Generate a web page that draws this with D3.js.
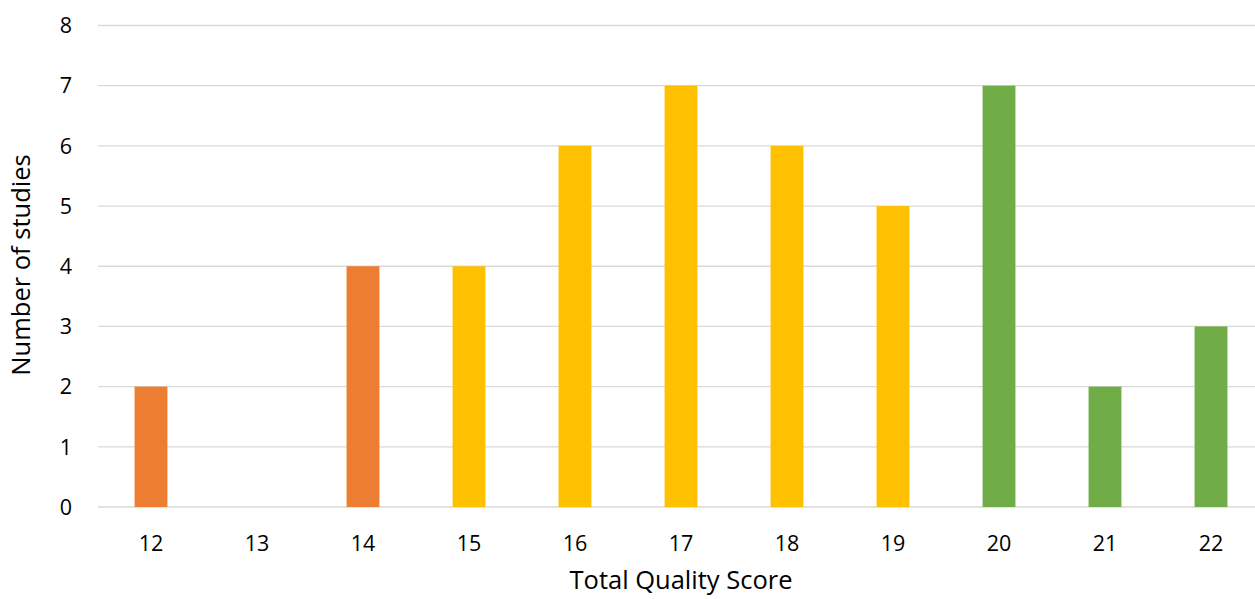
<!DOCTYPE html>
<html><head><meta charset="utf-8">
<script src="https://cdn.jsdelivr.net/npm/d3@7"></script>
<style>body{margin:0;background:#fff}svg{display:block}text{font-family:"Open Sans",sans-serif;fill:#000}</style>
</head><body>
<svg id="c" width="1255" height="599"></svg>
<script>
const categories = ["12","13","14","15","16","17","18","19","20","21","22"];
const values = [2,0,4,4,6,7,6,5,7,2,3];
const groups = ["low","low","low","mid","mid","mid","mid","mid","high","high","high"];
const yTicks = [0,1,2,3,4,5,6,7,8];
const colorMap = {low:"#ED7D31", mid:"#FFC000", high:"#70AD47"};

const svg = d3.select("#c");
const plotL = 98, plotR = 1264, plotT = 25.5, plotB = 507;
const x = d3.scaleBand().domain(categories).range([plotL, plotR]).paddingInner(0.69).paddingOuter(0.345);
const y = d3.scaleLinear().domain([0, 8]).range([plotB, plotT]);

svg.append("g").selectAll("line").data(yTicks).join("line")
  .attr("x1", plotL).attr("x2", plotR)
  .attr("y1", d => y(d)).attr("y2", d => y(d))
  .attr("stroke", "#D9D9D9").attr("stroke-width", 1.3);

svg.append("g").selectAll("rect").data(values).join("rect")
  .attr("x", (d,i) => x(categories[i]))
  .attr("width", x.bandwidth())
  .attr("y", d => y(d))
  .attr("height", d => y(0) - y(d))
  .attr("fill", (d,i) => colorMap[groups[i]]);

svg.append("g").selectAll("text").data(yTicks).join("text")
  .attr("x", 72).attr("y", d => y(d)).attr("dy", "0.36em")
  .attr("text-anchor", "end").attr("font-size", 21.5).text(d => d);

svg.append("g").selectAll("text").data(categories).join("text")
  .attr("x", d => x(d) + x.bandwidth()/2).attr("y", 550.5)
  .attr("text-anchor", "middle").attr("font-size", 21.5).text(d => d);

svg.append("text").attr("x", 681).attr("y", 589).attr("text-anchor", "middle")
  .attr("font-size", 25.5).text("Total Quality Score");

svg.append("text").attr("transform", "translate(30,265) rotate(-90)").attr("text-anchor", "middle")
  .attr("font-size", 25.5).text("Number of studies");
</script>
</body></html>
